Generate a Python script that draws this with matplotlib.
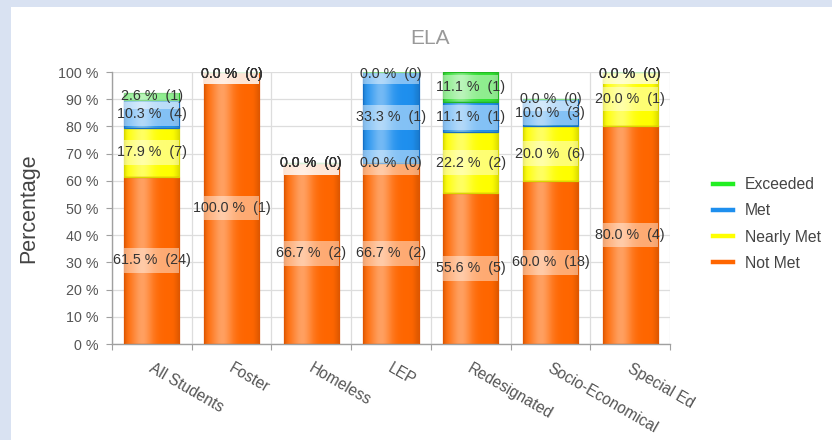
import numpy as np
import matplotlib
matplotlib.use("Agg")
import matplotlib.pyplot as plt
from matplotlib.patches import Rectangle
from matplotlib.lines import Line2D
from matplotlib.colors import to_rgb
from matplotlib.transforms import ScaledTranslation

# ---------------- data ----------------
categories = ["All Students", "Foster", "Homeless", "LEP", "Redesignated",
              "Socio-Economical", "Special Ed"]
series_names = ["Not Met", "Nearly Met", "Met", "Exceeded"]
not_met_pct = [61.5, 100.0, 66.7, 66.7, 55.6, 60.0, 80.0]
nearly_met_pct = [17.9, 0.0, 0.0, 0.0, 22.2, 20.0, 20.0]
met_pct = [10.3, 0.0, 0.0, 33.3, 11.1, 10.0, 0.0]
exceeded_pct = [2.6, 0.0, 0.0, 0.0, 11.1, 0.0, 0.0]
not_met_n = [24, 1, 2, 2, 5, 18, 4]
nearly_met_n = [7, 0, 0, 0, 2, 6, 1]
met_n = [4, 0, 0, 1, 1, 3, 0]
exceeded_n = [1, 0, 0, 0, 1, 0, 0]
y_ticks = [0, 10, 20, 30, 40, 50, 60, 70, 80, 90, 100]

series_pct = [not_met_pct, nearly_met_pct, met_pct, exceeded_pct]
series_n = [not_met_n, nearly_met_n, met_n, exceeded_n]
colors = ["#FF6600", "#FFFF00", "#1E8FEE", "#33E033"]
edges = ["#E05500", "#D8D800", "#1570C8", "#22B822"]
legend_colors = {"Exceeded": "#22EE22", "Met": "#1E8FEE",
                 "Nearly Met": "#FFFF00", "Not Met": "#FF6600"}

plt.rcParams["font.family"] = ["Liberation Sans", "DejaVu Sans"]

W, H = 832, 440
fig = plt.figure(figsize=(W / 100, H / 100), dpi=100)
fig.patch.set_facecolor("#D9E2F2")
fig.add_artist(Rectangle((11 / W, 0), 1 - 11 / W, 1 - 7 / H,
                         transform=fig.transFigure, facecolor="white",
                         edgecolor="none", zorder=0))

ax = fig.add_axes([112 / W, 96 / H, 558 / W, 272 / H])
ax.set_facecolor("white")

x = np.arange(len(categories))
width = 0.69

# gradient profile across a bar
t = np.linspace(0, 1, 64)
light = 0.38 * np.exp(-((t - 0.32) / 0.2) ** 2)
dark = 0.10 * np.exp(-(t / 0.05) ** 2) + 0.12 * np.exp(-((1 - t) / 0.08) ** 2)

def grad_image(color):
    base = np.array(to_rgb(color))
    row = base[None, :] * (1 - light[:, None]) + light[:, None]
    row = row * (1 - dark[:, None])
    return np.clip(row[None, :, :], 0, 1)

bottom = np.zeros(len(categories))
bottoms = []
for vals, col, ec in zip(series_pct, colors, edges):
    vals = np.array(vals)
    bottoms.append(bottom.copy())
    bars = ax.bar(x, vals, width, bottom=bottom, color=col, edgecolor="none",
                  zorder=2)
    img = grad_image(col)
    for p in bars:
        if p.get_height() <= 0:
            continue
        x0, y0 = p.get_x(), p.get_y()
        im = ax.imshow(img, extent=[x0, x0 + p.get_width(), y0, y0 + p.get_height()],
                       aspect="auto", zorder=2.1, interpolation="bilinear")
        im.set_clip_path(p)
    ax.bar(x, vals, width, bottom=bottom, fill=False, edgecolor=ec,
           linewidth=0.9, zorder=3)
    bottom = bottom + vals

# value labels with translucent boxes
box_h = 9.0
for vals, ns, bts in zip(series_pct, series_n, bottoms):
    for xi, v, n, b in zip(x, vals, ns, bts):
        c = b + v / 2
        ax.add_patch(Rectangle((xi - width / 2, c - box_h / 2), width, box_h,
                               facecolor="white", alpha=0.45, edgecolor="none",
                               zorder=4))
        ax.text(xi, min(c, 99.4), f"{v:.1f} %  ({n})", ha="center", va="center",
                fontsize=10.3, color="#333333", zorder=5)

ax.set_xlim(-0.5, len(categories) - 0.5)
ax.set_ylim(0, 100)

# grid / axes
ax.set_yticks(y_ticks)
ax.set_yticklabels([f"{v} %" for v in y_ticks])
ax.set_xticks(np.arange(len(categories) + 1) - 0.5)
ax.set_xticklabels([])
ax.set_xticks(x, minor=True)
ax.set_xticklabels(categories, minor=True, rotation=-30, ha="left",
                   rotation_mode="anchor", fontsize=11.2, color="#555555")
ax.grid(True, which="major", color="#DDDDDD", linewidth=0.9, zorder=0)
ax.set_axisbelow(True)
for s in ["top", "right"]:
    ax.spines[s].set_visible(False)
for s in ["left", "bottom"]:
    ax.spines[s].set_color("#A0A0A0")
    ax.spines[s].set_linewidth(1.0)
ax.tick_params(axis="y", which="major", length=4, color="#A0A0A0", pad=5.5,
               labelsize=10.3, labelcolor="#555555")
ax.tick_params(axis="x", which="major", length=4, color="#A0A0A0")
ax.tick_params(axis="x", which="minor", length=0, pad=12)
for lab in ax.get_xticklabels(minor=True):
    lab.set_transform(lab.get_transform() + ScaledTranslation(2 / 100, 0, fig.dpi_scale_trans))

ax.set_ylabel("Percentage", fontsize=15.5, color="#444444", labelpad=14)
fig.text(430 / W, 1 - 38 / H, "ELA", ha="center", va="center", fontsize=15,
         color="#999999")

handles = [Line2D([0], [0], color=legend_colors[nm], lw=3.2) for nm in
           ["Exceeded", "Met", "Nearly Met", "Not Met"]]
fig.legend(handles, ["Exceeded", "Met", "Nearly Met", "Not Met"],
           loc="upper left", bbox_to_anchor=(713 / W, 1 - 177 / H),
           frameon=False, fontsize=11.3, labelcolor="#444444", handlelength=1.3,
           handletextpad=0.75, labelspacing=0.72, borderpad=0, borderaxespad=0)

fig.savefig("out.png", dpi=100, facecolor=fig.get_facecolor())
